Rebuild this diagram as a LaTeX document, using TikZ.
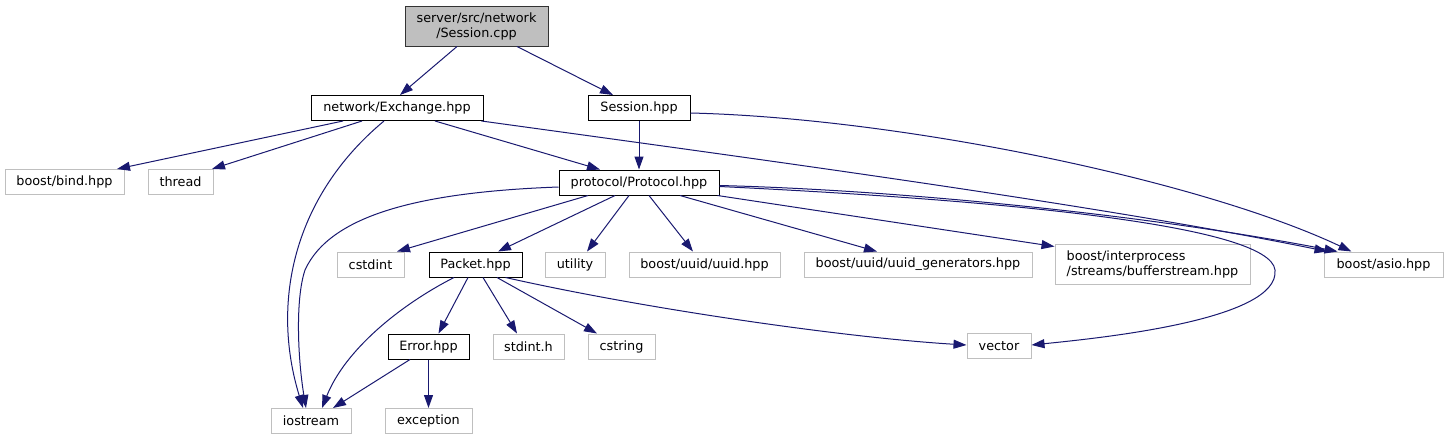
\documentclass[tikz,border=0pt]{standalone}
\usepackage{fontspec}
\setmainfont{DejaVu Sans}
\usetikzlibrary{arrows.meta}
\definecolor{edgec}{HTML}{191970}
\definecolor{extc}{HTML}{BFBFBF}
\definecolor{rootf}{HTML}{BFBFBF}
\begin{document}
\begin{tikzpicture}[x=1pt,y=-1pt,
  box/.style={draw, rectangle, inner sep=0pt, line width=1pt, text=black,
              font=\fontsize{12.8}{15}\selectfont},
  doc/.style={box, draw=black},
  ext/.style={box, draw=extc},
  root/.style={box, draw=black!80, fill=rootf},
  dep/.style={draw=edgec, line width=1pt, -{Triangle[length=13pt,width=9pt]}}
]
\useasboundingbox[fill=white] (0,0) rectangle (1447,440);

% nodes
\node[root, minimum width=143pt, minimum height=40pt, align=center] (scpp) at (476.5,26) {server/src/network\\/Session.cpp};
\node[doc, minimum width=172pt, minimum height=25pt] (exch) at (397,108) {network/Exchange.hpp};
\node[doc, minimum width=102pt, minimum height=25pt] (shpp) at (639,108) {Session.hpp};
\node[ext, minimum width=119pt, minimum height=25pt] (bind) at (64.5,182) {boost/bind.hpp};
\node[ext, minimum width=65pt, minimum height=25pt] (thread) at (180.5,182) {thread};
\node[doc, minimum width=160pt, minimum height=25pt] (proto) at (639,182.5) {protocol/Protocol.hpp};
\node[ext, minimum width=67pt, minimum height=25pt] (cstdint) at (370.5,264.5) {cstdint};
\node[doc, minimum width=93pt, minimum height=25pt] (packet) at (475.5,264.5) {Packet.hpp};
\node[ext, minimum width=60pt, minimum height=25pt] (utility) at (575,264.5) {utility};
\node[ext, minimum width=151pt, minimum height=25pt] (uuid) at (704.5,264.5) {boost/uuid/uuid.hpp};
\node[ext, minimum width=228pt, minimum height=25pt] (uuidgen) at (918,264.5) {boost/uuid/uuid\_generators.hpp};
\node[ext, minimum width=195pt, minimum height=40pt, align=left] (bufstr) at (1152.5,264) {boost/interprocess\\/streams/bufferstream.hpp};
\node[ext, minimum width=119pt, minimum height=25pt] (asio) at (1383.5,264.5) {boost/asio.hpp};
\node[doc, minimum width=81pt, minimum height=25pt] (error) at (428.5,346.5) {Error.hpp};
\node[ext, minimum width=71pt, minimum height=25pt] (stdinth) at (528.5,346.5) {stdint.h};
\node[ext, minimum width=67pt, minimum height=25pt] (cstring) at (621.5,346.5) {cstring};
\node[ext, minimum width=64pt, minimum height=25pt] (vector) at (999,346) {vector};
\node[ext, minimum width=80pt, minimum height=25pt] (iostream) at (311,421) {iostream};
\node[ext, minimum width=87pt, minimum height=25pt] (exception) at (428.5,421) {exception};

% edges from Session.cpp
\draw[dep] ([xshift=-19.5pt]scpp.south) -- ([xshift=3pt]exch.north);
\draw[dep] ([xshift=40.5pt]scpp.south) -- ([xshift=-26pt]shpp.north);

% edges from Exchange.hpp
\draw[dep] ([xshift=-54pt]exch.south) -- ([xshift=52.5pt]bind.north);
\draw[dep] ([xshift=-35pt]exch.south) -- ([xshift=31.5pt]thread.north);
\draw[dep] ([xshift=-13pt]exch.south) .. controls (295,195) and (270,300) .. ([xshift=-8pt]iostream.north);
\draw[dep] ([xshift=38pt]exch.south) -- ([xshift=-39pt]proto.north);
\draw[dep] ([xshift=-2pt]exch.south east) .. controls (750,158) and (1100,205) .. ([xshift=4pt]asio.north west);

% edges from Session.hpp
\draw[dep] (shpp.south) -- (proto.north);
\draw[dep] ([yshift=-5pt]shpp.east) .. controls (900,118) and (1200,180) .. ([xshift=28pt]asio.north west);

% edges from Protocol.hpp
\draw[dep] ([yshift=-4.5pt]proto.west) .. controls (420,192) and (330,215) .. (305,270)
           .. controls (295,300) and (298,360) .. ([xshift=-5pt]iostream.north);
\draw[dep] ([xshift=-51pt]proto.south) -- ([xshift=26.5pt]cstdint.north);
\draw[dep] ([xshift=-24pt]proto.south) -- ([xshift=22.5pt]packet.north);
\draw[dep] ([xshift=-10pt]proto.south) -- ([xshift=12pt]utility.north);
\draw[dep] ([xshift=10pt]proto.south) -- ([xshift=-11.5pt]uuid.north);
\draw[dep] ([xshift=41pt]proto.south) -- ([xshift=-41pt]uuidgen.north);
\draw[dep] ([xshift=-2pt]proto.south east) -- ([yshift=-3pt]bufstr.north west);
\draw[dep] ([yshift=-3pt]proto.east) .. controls (900,190) and (1150,215) .. ([xshift=14pt]asio.north west);
\draw[dep] ([yshift=-4pt]proto.east) .. controls (1000,200) and (1270,225) .. (1275,270)
           .. controls (1280,320) and (1100,338) .. ([yshift=1pt]vector.east);

% edges from Packet.hpp
\draw[dep] ([xshift=-21.5pt]packet.south) .. controls (400,305) and (345,350) .. ([xshift=11pt]iostream.north);
\draw[dep] ([xshift=-7.5pt]packet.south) -- ([xshift=10pt]error.north);
\draw[dep] ([xshift=7.5pt]packet.south) -- ([xshift=-11.5pt]stdinth.north);
\draw[dep] ([xshift=21.5pt]packet.south) -- ([xshift=-24.5pt]cstring.north);
\draw[dep] ([xshift=-17pt]packet.south east) .. controls (650,310) and (850,338) .. ([yshift=1pt]vector.west);

% edges from Error.hpp
\draw[dep] ([xshift=-18.5pt]error.south) -- ([xshift=22pt]iostream.north);
\draw[dep] (error.south) -- (exception.north);
\end{tikzpicture}
\end{document}
